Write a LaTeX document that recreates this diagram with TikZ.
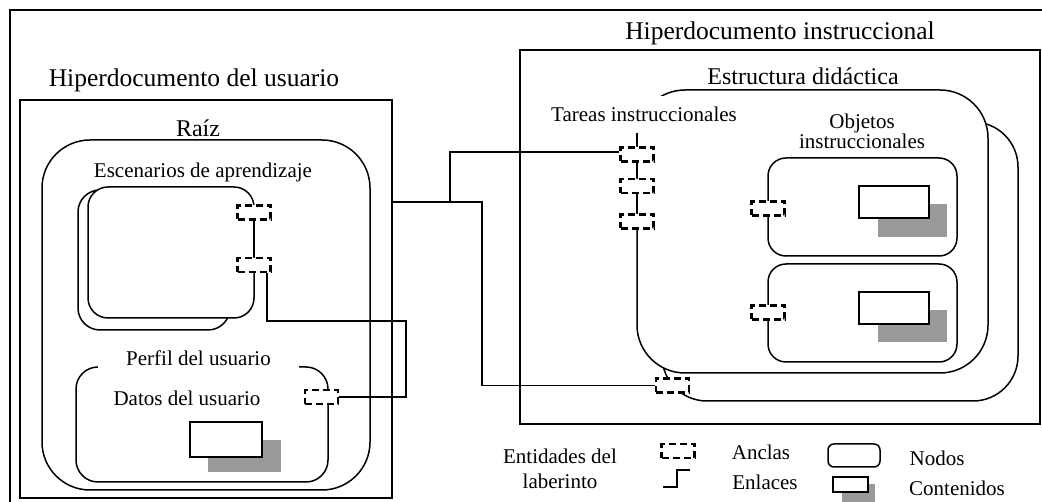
\documentclass[tikz,border=0pt]{standalone}
\usepackage{fontspec}
\setmainfont{Liberation Serif}
\usetikzlibrary{calc}
\definecolor{cgray}{RGB}{153,153,153}
\begin{document}
\begin{tikzpicture}[x=1pt,y=-1pt,
  box/.style={draw, line width=1.5pt, inner sep=0pt, outer sep=0pt},
  nd/.style={box, fill=white, rounded corners=#1},
  anc/.style={draw, fill=white, dash pattern=on 7pt off 4pt, line width=2.2pt, minimum width=33pt, minimum height=14pt, inner sep=0pt},
  lnk/.style={line width=1.5pt},
  txt/.style={inner sep=1pt, font=\fontsize{21}{24}\selectfont},
  big/.style={inner sep=1pt, font=\fontsize{25.5}{28}\selectfont},
  mid/.style={inner sep=1pt, font=\fontsize{24}{28}\selectfont},
  cw/.style={box, fill=white},
  cg/.style={fill=cgray, inner sep=0pt},
]
\useasboundingbox (0,0) rectangle (1042,502);
\clip (0,0) rectangle (1042,502);
\node[box, minimum width=1060pt, minimum height=520pt, anchor=north west] (frame) at (10,10) {};

% Hiperdocumento del usuario
\node[box, minimum width=372pt, minimum height=398pt] (hu) at (206,299) {};
\node[big] (hut) at (194,80) {Hiperdocumento del usuario};
\node[nd=48pt, minimum width=328pt, minimum height=350pt] (raiz) at (206,315) {};
\node[mid] (raizt) at (198,128) {Raíz};
\node[txt] (esct) at (203,172) {Escenarios de aprendizaje};
\node[nd=22pt, minimum width=152pt, minimum height=140pt] (escB) at (154,260) {};
\node[nd=20pt, minimum width=166pt, minimum height=131pt] (escF) at (171,252.5) {};
\node[nd=22pt, minimum width=252pt, minimum height=115pt] (perfil) at (202,424.5) {};
\node[txt, fill=white, minimum width=201pt, minimum height=30pt] (perfilt) at (198.5,358) {Perfil del usuario};
\node[txt] (datost) at (187,398) {Datos del usuario};
\node[cg, minimum width=73pt, minimum height=32pt] (cpg) at (244.5,456) {};
\node[cw, minimum width=72pt, minimum height=35pt] (cpw) at (226,439.5) {};

% Hiperdocumento instruccional
\node[box, minimum width=520pt, minimum height=374pt] (hi) at (780,237) {};
\node[big] (hit) at (780,33) {Hiperdocumento instruccional};
\node[mid] (estt) at (803,76) {Estructura didáctica};
\node[nd=45pt, minimum width=356pt, minimum height=279pt] (estB) at (840,261.5) {};
\node[nd=48pt, minimum width=351pt, minimum height=283pt] (estF) at (812.5,231.5) {};
\node[txt, fill=white, minimum height=37pt] (tart) at (644,114.5) {Tareas instruccionales};
\node[txt, align=center, font=\fontsize{21}{18}\selectfont] (objt) at (862,131) {Objetos\\instruccionales};
\node[nd=18pt, minimum width=189pt, minimum height=98pt] (obj1) at (862.5,207) {};
\node[nd=18pt, minimum width=189pt, minimum height=98pt] (obj2) at (862.5,313) {};
\node[cg, minimum width=69pt, minimum height=33pt] (c1g) at (912.5,220.5) {};
\node[cw, minimum width=70pt, minimum height=32pt] (c1w) at (894,202) {};
\node[cg, minimum width=69pt, minimum height=32pt] (c2g) at (912.5,326) {};
\node[cw, minimum width=70pt, minimum height=32pt] (c2w) at (894,308) {};

% link corners
\coordinate (k1) at (406,321);
\coordinate (j1) at (482,202);
\coordinate (j2) at (450,202);

% anchors
\node[anc] (ae1) at (254,212.5) {};
\node[anc] (ae2) at (254,265) {};
\node[anc] (ap) at (321.5,397) {};
\node[anc] (at1) at (637,154.5) {};
\node[anc] (at2) at (637,186) {};
\node[anc] (at3) at (637,221.5) {};
\node[anc] (ao1) at (768,208.5) {};
\node[anc] (ao2) at (768,312.5) {};
\node[anc] (ab) at (672.5,385.5) {};

\draw[lnk] (ae1.south) -- (ae2.north);
\draw[lnk] ([xshift=13pt]ae2.south) |- (k1) |- (ap.east);
\draw[lnk] (hu.east |- j1) -- (j1) |- (ab.west);
\draw[lnk] (j2) |- ([yshift=2.5pt]at1.west);
\draw[lnk] (tart.south -| at1) -- (at1.north);
\draw[lnk] (at1.south) -- (at2.north);
\draw[lnk] (at2.south) -- (at3.north);

% legend
\node[txt, align=center, font=\fontsize{21}{25}\selectfont] (ent) at (560,469) {Entidades del\\laberinto};
\node[anc] (la) at (678,451) {};
\coordinate (lk1) at (663,487);
\coordinate (lk2) at (690,470);
\draw[lnk, line width=2.2pt] (lk1) -| ($(lk2)+(-13,0)$) -- (lk2);
\node[txt] (anct) at (761,452) {Anclas};
\node[txt] (enlt) at (765,482) {Enlaces};
\node[nd=6pt, minimum width=52pt, minimum height=23pt] (ln) at (854,455.5) {};
\node[txt] (nodt) at (937,458) {Nodos};
\node[cg, minimum width=33pt, minimum height=22pt] (lcg) at (858.5,495) {};
\node[cw, minimum width=35pt, minimum height=15pt] (lcw) at (850.5,484.5) {};
\node[txt] (cont) at (957,488) {Contenidos};
\end{tikzpicture}
\end{document}
